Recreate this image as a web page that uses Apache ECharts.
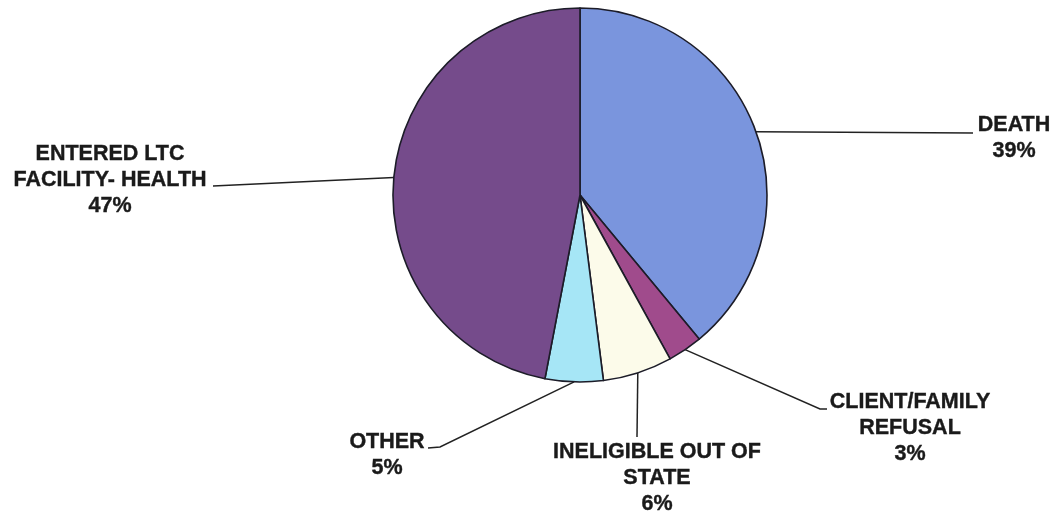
<!DOCTYPE html>
<html>
<head>
<meta charset="utf-8">
<script src="https://cdn.jsdelivr.net/npm/echarts@6/dist/echarts.min.js"></script>
<style>
  html, body { margin: 0; padding: 0; background: #ffffff; }
  #chart { width: 1055px; height: 516px; }
</style>
</head>
<body>
<div id="chart"></div>
<script>
// ---- data ----
const categories = [
  'DEATH',
  'CLIENT/FAMILY\nREFUSAL',
  'INELIGIBLE OUT OF\nSTATE',
  'OTHER',
  'ENTERED LTC\nFACILITY- HEALTH'
];
const values = [39, 3, 6, 5, 47];

// ---- styling / layout (not data) ----
const colors = ['#7a95dd', '#a04b8c', '#fcfbea', '#a6e6f6', '#754b8b'];
// label block anchor: [centerX, topY]
const labelAnchors = [[1014, 112], [910, 389], [657, 439], [387, 429], [110, 141]];
// leader line bend and end points
const leaderPoints = [
  [[973, 133], [973, 133]],
  [[820, 409], [827, 409]],
  [[637, 437], [637, 437]],
  [[440, 447], [428, 448]],
  [[213, 186], [213, 186]]
];

const chart = echarts.init(document.getElementById('chart'), null, { renderer: 'canvas' });
chart.setOption({
  animation: false,
  backgroundColor: '#ffffff',
  series: [{
    type: 'pie',
    center: [580, 195],
    radius: 187,
    startAngle: 90,
    clockwise: true,
    avoidLabelOverlap: false,
    percentPrecision: 0,
    data: categories.map((c, i) => ({
      name: c,
      value: values[i],
      itemStyle: { color: colors[i] }
    })),
    itemStyle: { borderColor: '#1c1c28', borderWidth: 1.6 },
    emphasis: { disabled: true },
    label: {
      show: true,
      position: 'outside',
      formatter: '{b}\n{d}%',
      fontFamily: 'Liberation Sans, Arial, sans-serif',
      fontWeight: 'bold',
      fontSize: 21.5,
      lineHeight: 26,
      color: '#1a1a1a',
      textBorderColor: '#1a1a1a',
      textBorderWidth: 0.4,
      align: 'center'
    },
    labelLine: {
      show: true,
      length: 20,
      length2: 20,
      smooth: false,
      lineStyle: { color: '#222222', width: 1.5 }
    },
    labelLayout: function (params) {
      const i = params.dataIndex;
      const a = labelAnchors[i];
      const start = params.labelLinePoints ? params.labelLinePoints[0] : leaderPoints[i][0];
      return {
        x: a[0],
        y: a[1],
        align: 'center',
        verticalAlign: 'top',
        labelLinePoints: [start, leaderPoints[i][0], leaderPoints[i][1]]
      };
    }
  }]
});
</script>
</body>
</html>
